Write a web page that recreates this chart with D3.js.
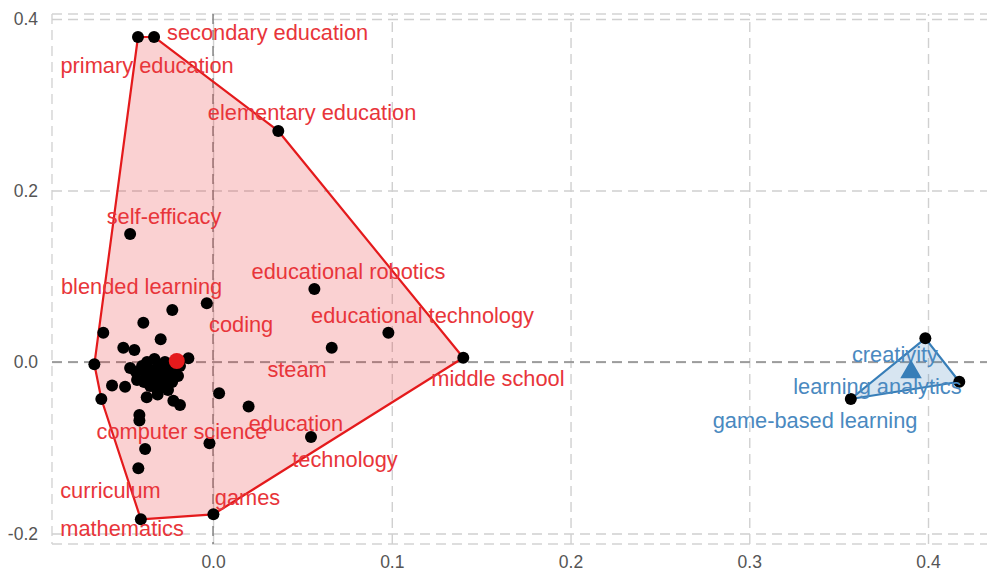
<!DOCTYPE html>
<html>
<head>
<meta charset="utf-8">
<script src="https://cdnjs.cloudflare.com/ajax/libs/d3/7.8.5/d3.min.js"></script>
<style>
  html, body { margin: 0; padding: 0; background: #fff; }
  svg { display: block; font-family: "Liberation Sans", Arial, Helvetica, sans-serif; }
</style>
</head>
<body>
<svg id="chart" width="993" height="571"></svg>
<script>
// cluster 1 (red) - keyword coordinates on Dim1 / Dim2
var redX = [-0.0420, -0.0330, 0.0365, -0.0464, 0.0567, -0.0035, 0.0981, 0.0664, 0.1400,
  -0.0228, -0.0390, -0.0614, -0.0293, -0.0502, -0.0440, -0.0664, -0.0138, -0.0328,
  -0.0565, -0.0492, -0.0625, -0.0371, -0.0310, -0.0222, -0.0185, 0.0034, 0.0199,
  -0.0412, -0.0412, -0.0020, 0.0548, -0.0380, -0.0418, -0.0404, 0.0002,
  -0.0464, -0.0431, -0.0397, -0.0375, -0.0352, -0.0330, -0.0308, -0.0297, -0.0280,
  -0.0263, -0.0252, -0.0235, -0.0229, -0.0213, -0.0196, -0.0185, -0.0386, -0.0352,
  -0.0319, -0.0285, -0.0425, -0.0252, -0.0218, -0.0369, -0.0269];
var redY = [0.3790, 0.3790, 0.2694, 0.1493, 0.0851, 0.0685, 0.0342, 0.0167, 0.0050,
  0.0606, 0.0458, 0.0342, 0.0265, 0.0167, 0.0140, -0.0027, 0.0043, 0.0035,
  -0.0274, -0.0288, -0.0431, -0.0412, -0.0379, -0.0451, -0.0501, -0.0365, -0.0519,
  -0.0618, -0.0682, -0.0948, -0.0875, -0.1015, -0.1240, -0.1834, -0.1776,
  -0.0070, -0.0117, -0.0047, -0.0152, -0.0093, -0.0187, -0.0047, -0.0117, -0.0210,
  -0.0070, -0.0152, -0.0023, -0.0233, -0.0093, -0.0163, -0.0047, -0.0233, -0.0280,
  -0.0303, -0.0280, -0.0210, -0.0327, 0.0000, 0.0000, 0.0000];

// cluster 2 (blue)
var blueX = [0.3985, 0.4175, 0.3568];
var blueY = [0.0276, -0.0230, -0.0431];

// cluster centres
var centerX = [-0.0203, 0.3905];
var centerY = [0.0012, -0.0117];

// repelled labels (cluster, text, label position)
var labelGroup = [0, 0, 0, 0, 0, 0, 0, 0, 0, 0, 0, 0, 0, 0, 0, 0, 1, 1, 1];
var labelText = ["secondary education", "primary education", "elementary education",
  "self-efficacy", "educational robotics", "blended learning", "coding",
  "educational technology", "steam", "middle school", "computer science",
  "education", "technology", "curriculum", "games", "mathematics",
  "creativity", "learning analytics", "game-based learning"];
var labelX = [0.0305, -0.0369, 0.0554, -0.0274, 0.0758, -0.0400, 0.0157, 0.1172,
  0.0470, 0.1594, -0.0174, 0.0464, 0.0738, -0.0574, 0.0193, -0.0509,
  0.3815, 0.3717, 0.3368];
var labelY = [0.3848, 0.3452, 0.2904, 0.1700, 0.1061, 0.0886, 0.0443, 0.0548,
  -0.0082, -0.0187, -0.0805, -0.0712, -0.1132, -0.1493, -0.1574, -0.1936,
  0.0082, -0.0280, -0.0677];

var xTicks = [0.0, 0.1, 0.2, 0.3, 0.4];
var yTicks = [-0.2, 0.0, 0.2, 0.4];
var xDomain = [-0.0901, 0.433];
var yDomain = [-0.2122, 0.4058];

var colors = ["#E41A1C", "#377EB8"];
var textColors = ["#E8353A", "#4A89C0"];

var svg = d3.select("#chart");
var margin = {left: 52, right: 6, top: 14, bottom: 27};
var W = 993, H = 571;

var x = d3.scaleLinear().domain(xDomain).range([margin.left, W - margin.right]);
var y = d3.scaleLinear().domain(yDomain).range([H - margin.bottom, margin.top]);
var fmt = function(d) { return d.toFixed(1); };  // plain hyphen, like R

// panel border (dashed, left / top / bottom)
var grid = svg.append("g").attr("stroke", "#d4d4d4").attr("stroke-width", 1.4)
  .attr("stroke-dasharray", "10,6").attr("fill", "none");
grid.append("line").attr("x1", margin.left).attr("x2", margin.left)
  .attr("y1", margin.top).attr("y2", H - margin.bottom);
grid.append("line").attr("x1", margin.left).attr("x2", W - margin.right)
  .attr("y1", margin.top).attr("y2", margin.top);
grid.append("line").attr("x1", margin.left).attr("x2", W - margin.right)
  .attr("y1", H - margin.bottom).attr("y2", H - margin.bottom);

// major grid via axes
var gx = svg.append("g").attr("transform", "translate(0," + (H - margin.bottom) + ")")
  .call(d3.axisBottom(x).tickValues(xTicks).tickFormat(fmt)
    .tickSize(-(H - margin.top - margin.bottom)).tickPadding(12));
var gy = svg.append("g").attr("transform", "translate(" + margin.left + ",0)")
  .call(d3.axisLeft(y).tickValues(yTicks).tickFormat(fmt)
    .tickSize(-(W - margin.left - margin.right)).tickPadding(14));
[gx, gy].forEach(function(g) {
  g.select(".domain").remove();
  g.selectAll(".tick line").attr("stroke", "#d0d0d0").attr("stroke-width", 1.4)
    .attr("stroke-dasharray", "10,6");
  g.selectAll(".tick text").attr("fill", "#555").style("font-size", "17.5px")
    .style("font-family", "'Liberation Sans', Arial, sans-serif");
});
gx.selectAll(".tick text").attr("dy", "0.71em");

// zero reference lines
svg.append("line").attr("x1", x(0)).attr("x2", x(0))
  .attr("y1", margin.top).attr("y2", H - margin.bottom)
  .attr("stroke", "#8a8a8a").attr("stroke-width", 1.6).attr("stroke-dasharray", "10,6");
svg.append("line").attr("x1", margin.left).attr("x2", W - margin.right)
  .attr("y1", y(0)).attr("y2", y(0))
  .attr("stroke", "#8a8a8a").attr("stroke-width", 1.6).attr("stroke-dasharray", "10,6");

var clusters = [
  d3.zip(redX, redY),
  d3.zip(blueX, blueY)
];

// convex hulls
clusters.forEach(function(pts, i) {
  var hull = d3.polygonHull(pts.map(function(d) { return [x(d[0]), y(d[1])]; }));
  svg.append("path")
    .attr("d", "M" + hull.join("L") + "Z")
    .attr("fill", colors[i]).attr("fill-opacity", 0.2)
    .attr("stroke", colors[i]).attr("stroke-width", 2.2)
    .attr("stroke-linejoin", "round");
});

// points
clusters.forEach(function(pts) {
  svg.append("g").selectAll("circle")
    .data(pts)
    .enter()
    .append("circle")
    .attr("cx", function(d) { return x(d[0]); })
    .attr("cy", function(d) { return y(d[1]); })
    .attr("r", 6)
    .attr("fill", "#000");
});

// labels
svg.append("g").selectAll("text")
  .data(labelText)
  .enter()
  .append("text")
  .text(function(d) { return d; })
  .attr("x", function(d, i) { return x(labelX[i]); })
  .attr("y", function(d, i) { return y(labelY[i]); })
  .attr("text-anchor", "middle")
  .attr("dominant-baseline", "central")
  .attr("fill", function(d, i) { return textColors[labelGroup[i]]; })
  .style("font-size", "21.8px");

// centres: circle for cluster 1, triangle for cluster 2
svg.append("circle")
  .attr("cx", x(centerX[0])).attr("cy", y(centerY[0]))
  .attr("r", 8).attr("fill", colors[0]);
svg.append("path")
  .attr("d", d3.symbol().type(d3.symbolTriangle).size(200)())
  .attr("transform", "translate(" + x(centerX[1]) + "," + y(centerY[1]) + ")")
  .attr("fill", colors[1]);
</script>
</body>
</html>
